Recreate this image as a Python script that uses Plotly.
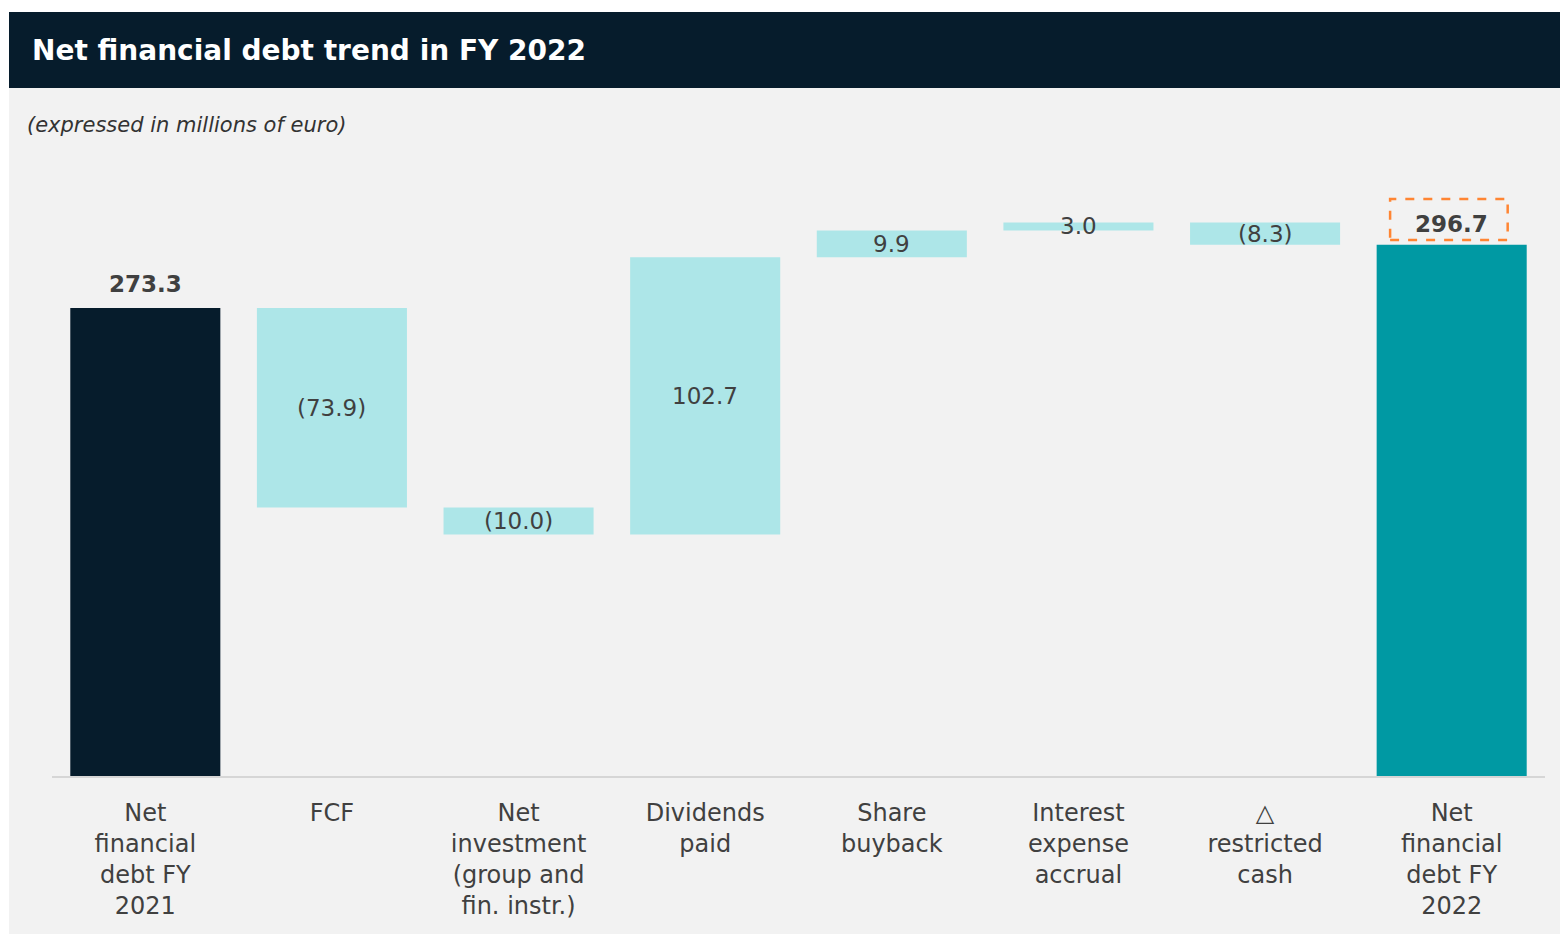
import plotly.graph_objects as go

# Net financial debt bridge, FY 2021 -> FY 2022 (millions of euro)
categories = [
    "Net<br>financial<br>debt FY<br>2021",
    "FCF",
    "Net<br>investment<br>(group and<br>fin. instr.)",
    "Dividends<br>paid",
    "Share<br>buyback",
    "Interest<br>expense<br>accrual",
    "△<br>restricted<br>cash",
    "Net<br>financial<br>debt FY<br>2022",
]
opening_debt = 273.3
movements = [-73.9, -10.0, 102.7, 9.9, 3.0, -8.3]
closing_debt = 296.7
value_labels = ["273.3", "(73.9)", "(10.0)", "102.7", "9.9", "3.0", "(8.3)", "296.7"]

DARK = "#061c2c"
TEAL = "#0099a3"
LIGHT = "#ade6e8"
BG = "#f2f2f2"
TEXT = "#404040"
FONT = "'DejaVu Sans', sans-serif"

# bar bases and heights for the bridge
bases, heights = [0.0], [opening_debt]
running = opening_debt
for m in movements:
    lo = running + min(m, 0)
    bases.append(lo)
    heights.append(abs(m))
    running += m
bases.append(0.0)
heights.append(closing_debt)
colors = [DARK] + [LIGHT] * len(movements) + [TEAL]

fig = go.Figure(go.Bar(
    x=categories, y=heights, base=bases,
    marker=dict(color=colors, line=dict(width=0)),
    hoverinfo="skip",
))

W, H = 1560, 934
ml, mr, mt, mb = 52, 15, 160, 158
pw, ph = W - ml - mr, H - mt - mb
y_min = 100.0
px_per_unit = 2.7005
y_max = y_min + ph / px_per_unit


def px_x(px):
    return (px - ml) / pw


def px_y(py):
    return 1 - (py - mt) / ph


annotations = []
# labels in the middle of each movement bar
for i in range(1, len(categories) - 1):
    annotations.append(dict(
        x=categories[i], y=bases[i] + heights[i] / 2, text=value_labels[i],
        showarrow=False, xanchor="center", yanchor="middle",
        font=dict(family=FONT, size=23, color=TEXT),
    ))
# bold totals above the first and last bars
for i, shift in ((0, 9), (len(categories) - 1, 6)):
    annotations.append(dict(
        x=categories[i], y=bases[i] + heights[i], text="<b>%s</b>" % value_labels[i],
        showarrow=False, xanchor="center", yanchor="bottom", yshift=shift,
        font=dict(family=FONT, size=23, color=TEXT),
    ))
# title and subtitle
annotations.append(dict(
    xref="paper", yref="paper", x=px_x(30), y=px_y(51),
    text="<b>Net financial debt trend in FY 2022</b>", showarrow=False,
    xanchor="left", yanchor="middle",
    font=dict(family=FONT, size=28, color="white"),
))
annotations.append(dict(
    xref="paper", yref="paper", x=px_x(25), y=px_y(125),
    text="<i>(expressed in millions of euro)</i>", showarrow=False,
    xanchor="left", yanchor="middle",
    font=dict(family=FONT, size=21, color="#333333"),
))

shapes = [
    # light page panel
    dict(type="rect", xref="paper", yref="paper", layer="below",
         x0=px_x(9), x1=px_x(W + 5), y0=px_y(H + 5), y1=px_y(12),
         fillcolor=BG, line=dict(width=0)),
    # dark header band
    dict(type="rect", xref="paper", yref="paper", layer="below",
         x0=px_x(9), x1=px_x(W + 5), y0=px_y(88), y1=px_y(12),
         fillcolor=DARK, line=dict(width=0)),
    # dashed highlight around the closing value
    dict(type="rect", xref="x", yref="y",
         x0=len(categories) - 1 - 0.33, x1=len(categories) - 1 + 0.30,
         y0=closing_debt + 1.8, y1=closing_debt + 17.0,
         line=dict(color="#ff8533", width=2.5, dash="dash"),
         fillcolor="rgba(0,0,0,0)"),
]

fig.update_layout(
    width=W, height=H,
    margin=dict(l=ml, r=mr, t=mt, b=mb),
    paper_bgcolor="white",
    plot_bgcolor=BG,
    bargap=0.196,
    showlegend=False,
    annotations=annotations,
    shapes=shapes,
    font=dict(family=FONT, color=TEXT),
    xaxis=dict(
        showgrid=False, zeroline=False, showline=True,
        linecolor="#d6d6d6", linewidth=2,
        tickfont=dict(family=FONT, size=24, color=TEXT),
        ticks="", ticklen=0, ticklabelstandoff=14,
    ),
    yaxis=dict(
        range=[y_min, y_max], visible=False, showgrid=False, zeroline=False,
    ),
)

fig.write_html("out.html")
